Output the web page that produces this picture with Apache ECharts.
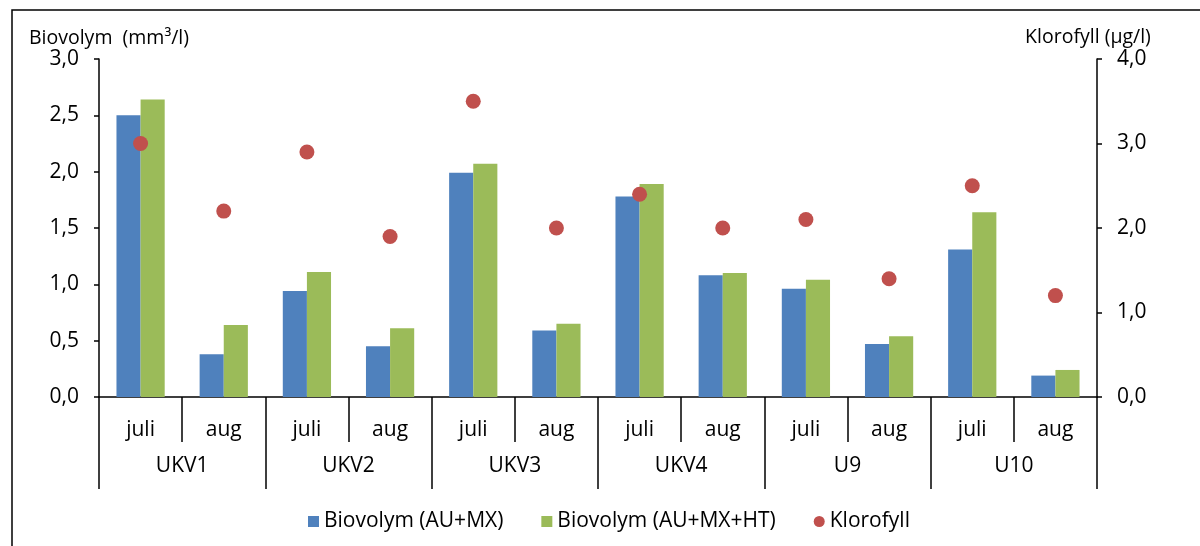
<!DOCTYPE html>
<html>
<head>
<meta charset="utf-8">
<script src="https://cdn.jsdelivr.net/npm/echarts@6/dist/echarts.min.js"></script>
<style>
  html, body { margin: 0; padding: 0; background: #fff; }
  #chart { width: 1200px; height: 546px; }
</style>
</head>
<body>
<div id="chart"></div>
<script>
// Stations and months (two-level category axis)
const stations = ['UKV1', 'UKV2', 'UKV3', 'UKV4', 'U9', 'U10'];
const months = ['juli', 'aug'];

// Biovolume, mm3/l (left axis)
const biovolAuMx = [2.50, 0.38, 0.94, 0.45, 1.99, 0.59, 1.78, 1.08, 0.96, 0.47, 1.31, 0.19];
const biovolAuMxHt = [2.64, 0.64, 1.11, 0.61, 2.07, 0.65, 1.89, 1.10, 1.04, 0.54, 1.64, 0.24];

// Chlorophyll, ug/l (right axis)
const klorofyll = [3.0, 2.2, 2.9, 1.9, 3.5, 2.0, 2.4, 2.0, 2.1, 1.4, 2.5, 1.2];

// Tick labels
const leftTicks = [0, 0.5, 1.0, 1.5, 2.0, 2.5, 3.0];
const rightTicks = [0, 1.0, 2.0, 3.0, 4.0];

const monthCats = [];
stations.forEach(() => months.forEach((m) => monthCats.push(m)));

const FONT = '"Open Sans", "Noto Sans", sans-serif';
const fmt = (v) => v.toFixed(1).replace('.', ',');
const axisLine = { show: true, lineStyle: { color: '#000', width: 1.5 } };

const chart = echarts.init(document.getElementById('chart'));

const option = {
  animation: false,
  textStyle: { fontFamily: FONT, color: '#000' },
  color: ['#4F81BD', '#9BBB59', '#C0504D'],
  graphic: [
    {
      type: 'rect',
      shape: { x: 12, y: 10, width: 1200, height: 560 },
      style: { fill: 'none', stroke: '#000', lineWidth: 1.5 },
      silent: true,
    },
  ],
  legend: {
    left: 303,
    top: 506,
    itemWidth: 11,
    itemHeight: 11,
    itemGap: 38,
    textStyle: { fontSize: 21, fontFamily: FONT, color: '#000' },
    data: [
      { name: 'Biovolym (AU+MX)', icon: 'rect' },
      { name: 'Biovolym (AU+MX+HT)', icon: 'rect' },
      { name: 'Klorofyll', icon: 'circle' },
    ],
  },
  grid: { left: 99, right: 103, top: 59, bottom: 149 },
  xAxis: [
    {
      type: 'category',
      data: monthCats,
      position: 'bottom',
      axisLine: axisLine,
      axisTick: { show: true, length: 45, lineStyle: { color: '#000', width: 1.5 } },
      axisLabel: { fontSize: 21, margin: 23, color: '#000', fontFamily: FONT },
    },
    {
      type: 'category',
      data: stations,
      position: 'bottom',
      axisLine: { show: false },
      axisTick: { show: true, length: 92, lineStyle: { color: '#000', width: 1.5 } },
      axisLabel: { fontSize: 21, margin: 59, color: '#000', fontFamily: FONT },
    },
  ],
  yAxis: [
    {
      type: 'value',
      min: leftTicks[0],
      max: leftTicks[leftTicks.length - 1],
      interval: 0.5,
      position: 'left',
      name: 'Biovolym  (mm³/l)',
      nameLocation: 'end',
      nameGap: 10,
      nameTextStyle: { fontSize: 19.5, color: '#000', fontFamily: FONT, align: 'center', padding: [0, 0, 0, 20] },
      axisLine: axisLine,
      axisTick: { show: true, length: 5, lineStyle: { color: '#000', width: 1.5 } },
      axisLabel: { fontSize: 21, margin: 20, color: '#000', formatter: fmt },
      splitLine: { show: false },
    },
    {
      type: 'value',
      min: rightTicks[0],
      max: rightTicks[rightTicks.length - 1],
      interval: 1,
      position: 'right',
      name: 'Klorofyll (µg/l)',
      nameLocation: 'end',
      nameGap: 12,
      nameTextStyle: { fontSize: 19.5, color: '#000', fontFamily: FONT, align: 'center', padding: [0, 18, 0, 0] },
      axisLine: axisLine,
      axisTick: { show: true, length: 5, lineStyle: { color: '#000', width: 1.5 } },
      axisLabel: { fontSize: 21, margin: 20, color: '#000', formatter: fmt },
      splitLine: { show: false },
    },
  ],
  series: [
    {
      name: 'Biovolym (AU+MX)',
      type: 'bar',
      xAxisIndex: 0,
      yAxisIndex: 0,
      data: biovolAuMx,
      barGap: '0%',
      barCategoryGap: '42%',
      itemStyle: { color: '#4F81BD' },
    },
    {
      name: 'Biovolym (AU+MX+HT)',
      type: 'bar',
      xAxisIndex: 0,
      yAxisIndex: 0,
      data: biovolAuMxHt,
      barGap: '0%',
      barCategoryGap: '42%',
      itemStyle: { color: '#9BBB59' },
    },
    {
      name: 'Klorofyll',
      type: 'scatter',
      xAxisIndex: 0,
      yAxisIndex: 1,
      data: klorofyll,
      symbol: 'circle',
      symbolSize: 15,
      itemStyle: { color: '#C0504D', opacity: 1 },
      z: 5,
    },
  ],
};

chart.setOption(option);
</script>
</body>
</html>
